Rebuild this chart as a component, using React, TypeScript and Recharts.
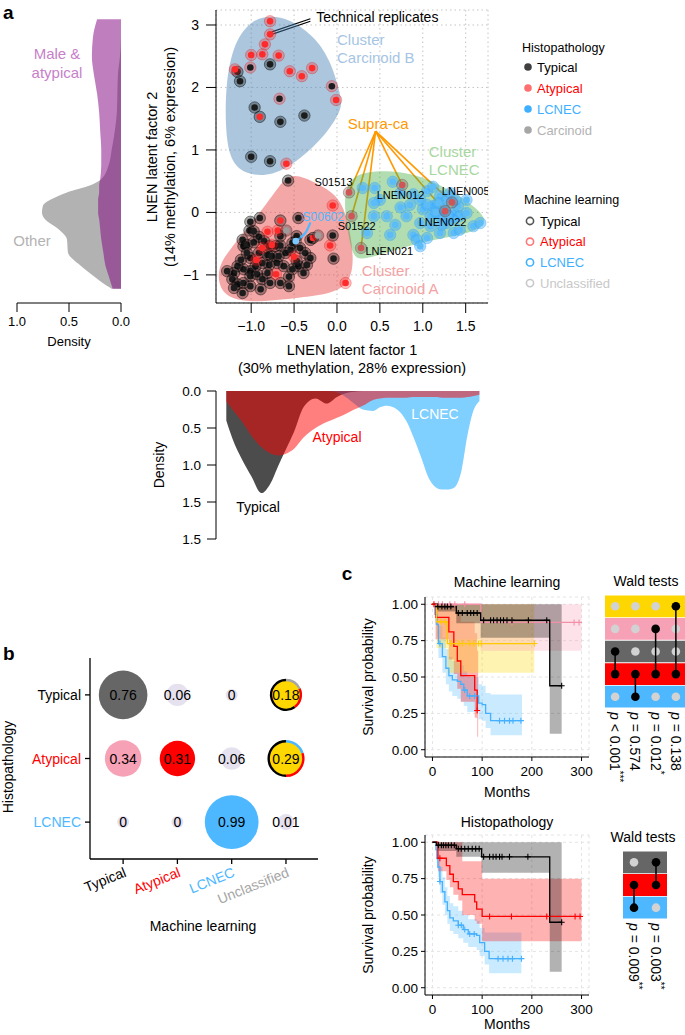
import React from 'react';
import {
  ScatterChart,
  Scatter,
  XAxis,
  YAxis,
  CartesianGrid,
  ReferenceLine,
  ReferenceArea,
  AreaChart,
  Area,
  ComposedChart,
  Line,
} from 'recharts';

const W = 685;
const H = 1035;
const FONT = '"Liberation Sans", Arial, Helvetica, sans-serif';

// ---------- panel a: latent factors ----------
const latent1Ticks = [-1, -0.5, 0, 0.5, 1, 1.5];
const latent2Ticks = [-1, 0, 1, 2, 3];

// histopathology / machine learning combinations
const typicalPts = [
  [-0.78, 2.37], [-1.16, 2.25], [-1.13, 2.1], [-0.96, 1.68], [-0.66, 1.45], [-0.38, 1.55], [-1.0, 0.89], [-0.78, 0.82],
  [-0.57, 0.51], [-0.45, -0.09], [-0.9, -0.09], [-1.01, -0.15], [-1.02, -0.29], [-0.47, -0.38], [-0.05, -0.37],
  [-0.04, -0.74], [-0.56, -1.03], [-1.09, -0.54], [-1.1, -0.44], [-1.05, -0.52], [-0.97, -0.48], [-0.91, -0.39],
  [-0.85, -0.46], [-0.79, -0.54], [-0.72, -0.54], [-0.66, -0.53], [-0.6, -0.65], [-0.54, -0.6], [-0.43, -0.57],
  [-0.37, -0.65], [-0.31, -0.73], [-0.35, -0.84], [-0.45, -0.86], [-0.52, -0.91], [-0.62, -0.86], [-0.7, -0.81],
  [-0.79, -0.84], [-0.87, -0.81], [-0.95, -0.86], [-1.01, -0.94], [-1.09, -0.91], [-1.16, -0.86], [-1.2, -0.97],
  [-1.28, -0.94], [-1.22, -1.07], [-1.16, -1.15], [-1.09, -1.13], [-1.01, -1.02], [-0.93, -0.99], [-0.87, -1.07],
  [-0.81, -0.97], [-0.78, -1.13], [-0.66, -1.13], [-0.56, -1.18], [-1.1, -1.29], [-1.2, -1.21], [-0.91, -0.65],
  [-1.01, -0.73], [-1.05, -0.65], [-1.12, -0.76], [-0.81, -0.68], [-0.76, -0.7], [-0.68, -0.7], [-0.89, -1.23],
  [-1.01, -1.18], [-0.52, -0.49], [-0.47, -0.78], [-0.31, -0.44], [-0.66, -0.38], [-0.39, -0.97], [-0.97, -0.3],
];
const atypicalPts = [
  [-0.78, 3.06], [-0.78, 2.85], [-0.84, 2.69], [-0.87, 2.53], [-1.0, 2.52], [-0.68, 2.51], [-1.19, 2.29], [-0.55, 2.26],
  [-0.41, 2.18], [-0.29, 2.31], [-0.01, 1.8], [-0.59, 0.78], [-0.05, 0.11], [-0.81, -0.31], [-0.69, -0.29],
  [-0.08, -0.53], [0.1, -1.13], [-0.5, -0.71], [-0.71, -0.99], [-0.94, -0.76], [-0.87, -0.57], [-0.76, -0.52],
];
const typAsAtyPts = [[-1.01, 2.32], [-0.06, 2.02], [-0.67, 1.82]];
const atyAsTypPts = [[-0.9, 1.53], [-0.66, -0.13], [-0.28, -0.41]];
const carcinoidPts = [[-0.59, -0.29], [-0.22, -0.37]];
const lcnecPts = [
  [0.3, 0.39], [0.44, 0.39], [0.65, 0.49], [0.5, 0.2], [0.74, 0.08], [0.89, 0.29], [0.97, 0.2], [1.05, 0.34],
  [1.12, 0.41], [1.2, 0.26], [1.12, 0.1], [1.09, -0.06], [0.97, -0.17], [1.09, -0.22], [1.2, -0.06], [1.28, 0.2],
  [1.32, 0.31], [1.36, -0.01], [1.41, 0.1], [1.43, -0.06], [1.36, -0.12], [1.28, -0.17], [1.51, -0.01], [1.59, -0.22],
  [1.67, -0.17], [0.62, -0.36], [0.89, -0.36], [0.93, -0.44], [1.05, -0.41], [0.97, -0.54], [1.36, -0.33], [0.58, -0.06],
  [0.74, 0.31], [0.43, 0.15], [0.35, -0.33], [0.81, -0.06], [0.43, -0.06], [1.2, -0.33], [1.51, 0.2], [1.43, -0.28],
  [1.0, 0.05], [1.15, 0.0], [1.25, 0.05], [1.3, -0.05], [1.18, 0.15], [1.05, 0.12], [0.85, 0.12], [0.68, -0.2],
  [1.38, 0.2], [1.22, -0.2],
];
const s00602Pt = [[-0.48, -0.46]];
const s00602Arrow = [[-0.31, -0.16], [-0.37, -0.33], [-0.47, -0.45]];
const supraPts = [[0.14, 0.32], [0.17, -0.06], [0.28, -0.57], [0.76, 0.44], [1.34, 0.16], [1.26, 0.02]];
const supraAnchor = { x: 0.45, y: 1.3 };
const replicateLines = [
  [[-0.31, 3.1], [-0.76, 2.89]],
  [[-0.31, 3.06], [-0.76, 2.85]],
];

// cluster hulls
const hullB = [
  [-0.76, 3.15], [-0.56, 3.1], [-0.28, 2.84], [-0.08, 2.46], [0.05, 1.85], [0.06, 1.65], [-0.14, 1.22], [-0.43, 0.85],
  [-0.74, 0.58], [-1.07, 0.6], [-1.24, 0.82], [-1.3, 1.27], [-1.3, 2.06], [-1.2, 2.74], [-0.98, 3.1],
];
const hullA = [
  [-0.54, 0.6], [-0.4, 0.58], [-0.05, 0.34], [0.08, 0.1], [0.18, -0.44], [0.21, -1.26], [-0.43, -1.36], [-1.05, -1.46],
  [-1.36, -1.32], [-1.4, -0.91], [-1.27, -0.62], [-0.9, -0.02], [-0.66, 0.46],
];
const hullL = [
  [0.09, 0.36], [0.21, 0.63], [0.58, 0.68], [0.98, 0.6], [1.43, 0.28], [1.8, -0.12], [1.62, -0.32], [1.12, -0.43],
  [0.58, -0.64], [0.26, -0.78], [0.17, -0.67], [0.09, -0.01],
];

const clusterBTag = [{ x: 0.0, y: 2.76, t: 'Cluster' }, { x: 0.0, y: 2.48, t: 'Carcinoid B' }];
const clusterLTag = [{ x: 1.07, y: 0.97, t: 'Cluster' }, { x: 1.07, y: 0.68, t: 'LCNEC' }];
const clusterATag = [{ x: 0.29, y: -0.93, t: 'Cluster' }, { x: 0.29, y: -1.21, t: 'Carcinoid A' }];
const replicateTag = [{ x: 0.47, y: 3.12, t: 'Technical replicates' }];
const supraTag = [{ x: 0.48, y: 1.43, t: 'Supra-ca' }];
const s00602Tag = [{ x: -0.16, y: -0.07, t: 'S00602' }];
const sampleTags = [
  { x: -0.04, y: 0.48, t: 'S01513' },
  { x: 0.23, y: -0.21, t: 'S01522' },
  { x: 0.61, y: -0.62, t: 'LNEN021' },
  { x: 0.74, y: 0.28, t: 'LNEN012' },
  { x: 1.5, y: 0.35, t: 'LNEN005' },
  { x: 1.23, y: -0.16, t: 'LNEN022' },
];

// density along factor 2 (left)
const densY = [3.09, 2.8, 2.5, 2.2, 1.9, 1.6, 1.3, 1.0, 0.75, 0.53, 0.43, 0.32, 0.21, 0.11, 0, -0.11, -0.27, -0.43, -0.64, -0.85, -1.01, -1.17, -1.22];
const maleAtypicalDens = [0.23, 0.27, 0.28, 0.26, 0.23, 0.21, 0.2, 0.19, 0.19, 0.2, 0.21, 0.21, 0.22, 0.22, 0.22, 0.21, 0.2, 0.19, 0.17, 0.15, 0.12, 0.09, 0.08];
const otherDens = [0, 0, 0.01, 0.03, 0.035, 0.04, 0.06, 0.09, 0.12, 0.19, 0.3, 0.52, 0.67, 0.75, 0.76, 0.73, 0.6, 0.52, 0.51, 0.39, 0.27, 0.14, 0.09];
const densXTicks = [0, 0.5, 1];

// density along factor 1 (bottom)
const densX = [-1.29, -1.22, -1.11, -1.0, -0.88, -0.78, -0.68, -0.6, -0.5, -0.39, -0.25, -0.12, 0.0, 0.1, 0.2, 0.3, 0.42, 0.5, 0.58, 0.7, 0.81, 0.9, 0.97, 1.08, 1.15, 1.22, 1.3, 1.36, 1.45, 1.52, 1.58, 1.66];
const typicalDens = [0.4, 0.64, 0.92, 1.15, 1.38, 1.26, 1.0, 0.8, 0.55, 0.22, 0.1, 0.17, 0.08, 0.03, 0.01, 0, 0, 0, 0, 0, 0, 0, 0, 0, 0, 0, 0, 0, 0, 0, 0, 0];
const atypicalDens = [0.14, 0.25, 0.41, 0.6, 0.76, 0.84, 0.87, 0.85, 0.78, 0.63, 0.5, 0.42, 0.36, 0.31, 0.25, 0.2, 0.12, 0.1, 0.09, 0.09, 0.09, 0.08, 0.08, 0.08, 0.08, 0.09, 0.09, 0.09, 0.09, 0.08, 0.07, 0.05];
const lcnecDens = [0, 0, 0, 0, 0, 0, 0, 0, 0, 0, 0, 0, 0.02, 0.08, 0.17, 0.25, 0.27, 0.22, 0.2, 0.25, 0.41, 0.65, 0.86, 1.2, 1.3, 1.33, 1.33, 1.31, 1.08, 0.6, 0.3, 0.14];
const bottomTicks = [0, 0.5, 1, 1.5, 2];
const bottomTickLabels = ['0.0', '0.5', '1.0', '1.5', '1.5'];

// ---------- panel b: confusion bubbles ----------
const mlClasses = ['Typical', 'Atypical', 'LCNEC', 'Unclassified'];
const histoClasses = ['Typical', 'Atypical', 'LCNEC'];
const propTypical = [0.76, 0.06, 0, 0.18];
const propAtypical = [0.34, 0.31, 0.06, 0.29];
const propLCNEC = [0, 0, 0.99, 0.01];
// composition of the unclassified samples (typical / atypical / other)
const unclassifiedMix = [[0.6, 0.22, 0.18], [0.5, 0.3, 0.2]];

// ---------- panel c: survival ----------
const monthTicks = [0, 100, 200, 300];
const survTicks = [0, 0.25, 0.5, 0.75, 1];

type KM = { t: number[]; s: number[]; lo: number[]; hi: number[]; cens: number[][] };

const mlUnclassified: KM = {
  t: [0, 8, 30, 205], s: [1, 0.88, 0.73, 0.73], lo: [1, 0.7, 0.53, 0.53], hi: [1, 1, 1, 1],
  cens: [[17, 0.88], [25, 0.88], [37, 0.73], [53, 0.73], [60, 0.73], [75, 0.73], [83, 0.73], [93, 0.73], [98, 0.73], [205, 0.73]],
};
const mlPink: KM = {
  t: [0, 5, 97, 300], s: [1, 1, 0.875, 0.875], lo: [1, 0.76, 0.68, 0.68], hi: [1, 1, 1, 1],
  cens: [[12, 1], [20, 1], [35, 1], [45, 1], [65, 1], [160, 0.875], [285, 0.875], [295, 0.875]],
};
const mlTypical: KM = {
  t: [0, 10, 48, 97, 236, 260], s: [1, 0.984, 0.94, 0.89, 0.44, 0.44], lo: [1, 0.95, 0.87, 0.77, 0.11, 0.11], hi: [1, 1, 1, 1, 1, 1],
  cens: [[11, 0.984], [19, 0.984], [25, 0.984], [30, 0.984], [37, 0.984], [52, 0.94], [60, 0.94], [70, 0.94], [77, 0.94], [83, 0.94], [90, 0.94],
    [103, 0.89], [117, 0.89], [123, 0.89], [130, 0.89], [137, 0.89], [143, 0.89], [150, 0.89], [160, 0.89], [193, 0.89], [230, 0.89], [260, 0.44]],
};
const mlAtypical: KM = {
  t: [0, 7, 33, 43, 50, 57, 85, 90, 92], s: [1, 0.91, 0.81, 0.71, 0.61, 0.51, 0.41, 0.27, 0.27],
  lo: [1, 0.76, 0.62, 0.52, 0.42, 0.33, 0.22, 0.09, 0.09], hi: [1, 1, 1, 1, 0.95, 0.88, 0.8, 0.68, 0.68],
  cens: [[3, 1], [90, 0.27]],
};
const mlLCNEC: KM = {
  t: [0, 5, 9, 12, 20, 27, 33, 40, 50, 57, 63, 70, 93, 100, 107, 117, 180],
  s: [1, 0.93, 0.86, 0.73, 0.64, 0.56, 0.51, 0.48, 0.47, 0.45, 0.41, 0.37, 0.32, 0.31, 0.25, 0.2, 0.2],
  lo: [1, 0.86, 0.78, 0.63, 0.53, 0.45, 0.4, 0.37, 0.35, 0.33, 0.3, 0.26, 0.21, 0.2, 0.15, 0.1, 0.1],
  hi: [1, 1, 0.95, 0.85, 0.77, 0.69, 0.64, 0.61, 0.6, 0.58, 0.54, 0.5, 0.45, 0.44, 0.39, 0.38, 0.38],
  cens: [[15, 0.73], [65, 0.41], [75, 0.37], [85, 0.37], [135, 0.2], [145, 0.2], [155, 0.2], [162, 0.2], [178, 0.2]],
};

const hTypical: KM = {
  t: [0, 8, 48, 99, 236, 260], s: [1, 0.98, 0.955, 0.9, 0.45, 0.45], lo: [1, 0.94, 0.9, 0.79, 0.11, 0.11], hi: [1, 1, 1, 1, 1, 1],
  cens: [[12, 0.98], [18, 0.98], [22, 0.98], [27, 0.98], [32, 0.98], [38, 0.98], [44, 0.98], [52, 0.955], [58, 0.955], [65, 0.955], [72, 0.955],
    [80, 0.955], [87, 0.955], [94, 0.955], [103, 0.9], [115, 0.9], [122, 0.9], [128, 0.9], [135, 0.9], [140, 0.9], [155, 0.9], [192, 0.9], [260, 0.45]],
};
const hAtypical: KM = {
  t: [0, 11, 28, 35, 42, 52, 60, 85, 89, 100, 300], s: [1, 0.89, 0.84, 0.78, 0.73, 0.68, 0.64, 0.59, 0.54, 0.49, 0.49],
  lo: [1, 0.8, 0.74, 0.69, 0.64, 0.6, 0.5, 0.46, 0.44, 0.32, 0.32], hi: [1, 1, 1, 1, 1, 1, 0.87, 0.87, 0.87, 0.75, 0.75],
  cens: [[15, 0.89], [115, 0.49], [159, 0.49], [230, 0.49], [287, 0.49], [297, 0.49]],
};
const hLCNEC: KM = {
  t: [0, 7, 9, 11, 15, 20, 25, 30, 35, 42, 52, 62, 72, 89, 95, 105, 114, 179],
  s: [1, 0.95, 0.89, 0.83, 0.73, 0.66, 0.59, 0.53, 0.48, 0.46, 0.43, 0.4, 0.37, 0.36, 0.31, 0.25, 0.2, 0.2],
  lo: [1, 0.88, 0.82, 0.76, 0.65, 0.57, 0.5, 0.44, 0.39, 0.37, 0.34, 0.31, 0.28, 0.26, 0.22, 0.16, 0.1, 0.1],
  hi: [1, 1, 0.97, 0.92, 0.83, 0.76, 0.69, 0.63, 0.58, 0.56, 0.53, 0.5, 0.47, 0.46, 0.41, 0.38, 0.38, 0.38],
  cens: [[15, 0.73], [52, 0.43], [58, 0.43], [65, 0.4], [75, 0.37], [84, 0.37], [132, 0.2], [142, 0.2], [152, 0.2], [161, 0.2], [179, 0.2]],
};

// Wald tests: which two groups each column compares
const mlPairs = [[3, 4], [4, 5], [2, 4], [1, 4]];
const mlPLabels = ['p < 0.001***', 'p = 0.574', 'p = 0.012*', 'p = 0.138'];
const hPairs = [[2, 3], [1, 2]];
const hPLabels = ['p = 0.009**', 'p = 0.003**'];

// ---------- colours ----------
const C_TYP = '#000000';
const C_ATY = '#ff0000';
const C_LCN = '#4db8ff';
const C_UNC = '#ffd700';
const C_PINK = '#f7a1b6';
const C_GREY = '#666666';
const mlColors = ['#000000', '#ff0000', '#4db8ff', '#a6a6a6'];
const histoColors = ['#000000', '#ff0000', '#4db8ff'];
const cellFill = [
  ['#666666', '#e6e1ef', '#e6e1ef', '#ffd700'],
  ['#f7a1b6', '#ff0000', '#e6e1ef', '#ffd700'],
  ['#e6e1ef', '#e6e1ef', '#4db8ff', '#e6e1ef'],
];
const mixColors = [['#000000', '#ff0000', '#a6a6a6'], ['#000000', '#ff0000', '#4db8ff']];

// plot box in page pixels -> chart margin (axis sizes included)
const box = (l: number, t: number, r: number, b: number, yw = 0, xh = 0) => ({
  top: t, left: l - yw, right: W - r, bottom: H - b - xh,
});
const xy = (a: number[][]) => a.map(([x, y]) => ({ x, y }));
const minus = (s: string) => s.replace('-', '\u2212');
const hidden = () => <g />;

const Layer = ({ children }: { children: React.ReactNode }) => (
  <div style={{ position: 'absolute', left: 0, top: 0 }}>{children}</div>
);

const ringDot = (core: string, ring: string, edge: string) => (p: any) => (
  <g>
    <circle cx={p.cx} cy={p.cy} r={5.7} fill={ring} stroke={edge} strokeWidth={0.8} />
    <circle cx={p.cx} cy={p.cy} r={3.3} fill={core} />
  </g>
);

const textMark = (color: string, size: number, anchor: 'start' | 'middle' | 'end' = 'middle') => (p: any) => (
  <text x={p.cx} y={p.cy} textAnchor={anchor} dominantBaseline="central" fill={color} fontSize={size}>
    {p.payload.t}
  </text>
);

const hull = (data: number[][], fill: string) => (
  <Scatter
    data={xy(data)}
    shape={hidden}
    line={{ fill, stroke: 'none' }}
    lineType="joint"
    lineJointType="basisClosed"
    isAnimationActive={false}
  />
);

function LatentScatter() {
  return (
    <ScatterChart width={W} height={H} margin={box(216, 10, 488, 303, 45, 45)}>
      <CartesianGrid stroke="#c4c4c4" strokeDasharray="1.5 3" />
      <XAxis
        type="number" dataKey="x" domain={[-1.41, 1.76]} allowDataOverflow ticks={latent1Ticks} interval={0}
        tickFormatter={(v: number) => minus(v.toFixed(1))} height={45} stroke="#000" tickSize={10} tickMargin={8}
        tick={{ fill: '#000', fontSize: 14 }}
      />
      <YAxis
        type="number" dataKey="y" domain={[-1.45, 3.24]} allowDataOverflow ticks={latent2Ticks} interval={0}
        tickFormatter={(v: number) => minus(String(v))} width={45} stroke="#000" tickSize={10} tickMargin={7}
        tick={{ fill: '#000', fontSize: 14 }}
      />
      {hull(hullB, 'rgba(70,130,180,0.45)')}
      {hull(hullA, 'rgba(230,60,60,0.45)')}
      {hull(hullL, 'rgba(60,170,60,0.4)')}

      {replicateLines.map((seg, k) => (
        <ReferenceLine key={'rep' + k} segment={xy(seg)} stroke="#000" strokeWidth={1.2} ifOverflow="visible" />
      ))}
      {supraPts.map((p, k) => (
        <ReferenceLine key={'sup' + k} segment={[supraAnchor, { x: p[0], y: p[1] }]} stroke="#ff9900" strokeWidth={1.6} ifOverflow="visible" />
      ))}

      <Scatter data={xy(typicalPts)} shape={ringDot('#1c1c1c', 'rgba(0,0,0,0.32)', 'rgba(0,0,0,0.55)')} isAnimationActive={false} />
      <Scatter data={xy(typAsAtyPts)} shape={ringDot('#1c1c1c', 'rgba(255,40,40,0.3)', 'rgba(220,0,0,0.35)')} isAnimationActive={false} />
      <Scatter data={xy(atypicalPts)} shape={ringDot('#ff2a2a', 'rgba(255,40,40,0.3)', 'rgba(220,0,0,0.35)')} isAnimationActive={false} />
      <Scatter data={xy(atyAsTypPts)} shape={ringDot('#ff2a2a', 'rgba(0,0,0,0.32)', 'rgba(0,0,0,0.6)')} isAnimationActive={false} />
      <Scatter data={xy(carcinoidPts)} shape={ringDot('#9c9c9c', 'rgba(0,0,0,0.25)', 'rgba(0,0,0,0.35)')} isAnimationActive={false} />
      <Scatter data={xy(lcnecPts)} shape={ringDot('#5cbcf7', 'rgba(60,170,255,0.45)', 'rgba(60,170,255,0.5)')} isAnimationActive={false} />
      <Scatter data={xy(supraPts)} shape={ringDot('#cf5656', 'rgba(120,90,90,0.35)', 'rgba(120,60,60,0.45)')} isAnimationActive={false} />
      <Scatter
        data={xy(s00602Arrow)} shape={hidden} line={{ stroke: '#4db8ff', strokeWidth: 2.2, fill: 'none' }}
        lineType="joint" lineJointType="natural" isAnimationActive={false}
      />
      <Scatter data={xy(s00602Pt)} shape={ringDot('#7ac8ff', 'rgba(0,0,0,0.25)', 'rgba(0,0,0,0.35)')} isAnimationActive={false} />

      <Scatter data={clusterBTag} shape={textMark('#a6c5e4', 15, 'start')} isAnimationActive={false} />
      <Scatter data={clusterLTag} shape={textMark('#a8d7a0', 15, 'start')} isAnimationActive={false} />
      <Scatter data={clusterATag} shape={textMark('#f3a3a3', 15, 'start')} isAnimationActive={false} />
      <Scatter data={replicateTag} shape={textMark('#000', 14)} isAnimationActive={false} />
      <Scatter data={supraTag} shape={textMark('#ff9900', 15)} isAnimationActive={false} />
      <Scatter data={s00602Tag} shape={textMark('#4db8ff', 12)} isAnimationActive={false} />
      <Scatter data={sampleTags} shape={textMark('#000', 11)} isAnimationActive={false} />
    </ScatterChart>
  );
}

function LeftDensity() {
  const data = densY.map((y, i) => ({ y, g: otherDens[i], p: maleAtypicalDens[i] }));
  return (
    <AreaChart layout="vertical" width={W} height={H} data={data} margin={box(17, 10, 121, 303, 0, 40)}>
      <XAxis
        type="number" domain={[0, 1]} reversed ticks={densXTicks} interval={0} tickFormatter={(v: number) => v.toFixed(1)}
        height={40} stroke="#000" tickSize={9} tickMargin={5} tick={{ fill: '#000', fontSize: 13 }} allowDataOverflow
      />
      <YAxis type="number" dataKey="y" domain={[-1.45, 3.24]} reversed hide allowDataOverflow />
      <Area dataKey="g" type="monotone" baseValue={0} stroke="none" fill="rgba(102,102,102,0.5)" fillOpacity={1} isAnimationActive={false} />
      <Area dataKey="p" type="monotone" baseValue={0} stroke="none" fill="rgba(128,0,128,0.5)" fillOpacity={1} isAnimationActive={false} />
    </AreaChart>
  );
}

function BottomDensity() {
  const data = densX.map((x, i) => ({ x, t: typicalDens[i], l: lcnecDens[i], a: atypicalDens[i] }));
  return (
    <AreaChart width={W} height={H} data={data} margin={box(216, 391, 488, 539, 50, 0)}>
      <XAxis type="number" dataKey="x" domain={[-1.41, 1.76]} hide allowDataOverflow />
      <YAxis
        type="number" domain={[0, 2]} reversed ticks={bottomTicks} interval={0}
        tickFormatter={(v: number, i: number) => bottomTickLabels[i]} width={50} stroke="#000" tickSize={9} tickMargin={6}
        tick={{ fill: '#000', fontSize: 13.5 }} allowDataOverflow
      />
      <Area dataKey="t" type="monotone" baseValue={0} stroke="none" fill="rgba(0,0,0,0.7)" fillOpacity={1} isAnimationActive={false} />
      <Area dataKey="l" type="monotone" baseValue={0} stroke="none" fill="rgba(0,160,255,0.5)" fillOpacity={1} isAnimationActive={false} />
      <Area dataKey="a" type="monotone" baseValue={0} stroke="none" fill="rgba(255,0,0,0.5)" fillOpacity={1} isAnimationActive={false} />
    </AreaChart>
  );
}

// ---------- panel b ----------
const arcPath = (cx: number, cy: number, r: number, a0: number, a1: number) => {
  const rad = Math.PI / 180;
  const x0 = cx + r * Math.cos(a0 * rad);
  const y0 = cy - r * Math.sin(a0 * rad);
  const x1 = cx + r * Math.cos(a1 * rad);
  const y1 = cy - r * Math.sin(a1 * rad);
  return `M${x0},${y0} A${r},${r} 0 ${a1 - a0 > 180 ? 1 : 0} 0 ${x1},${y1}`;
};

const bubble = (p: any) => {
  const { cx, cy, payload } = p;
  const { v, i, j } = payload;
  const r = 6 + 21 * Math.sqrt(v);
  const mix = j === 3 && v > 0.1 ? unclassifiedMix[i] : null;
  let a = 90;
  return (
    <g>
      <circle cx={cx} cy={cy} r={r} fill={cellFill[i][j]} />
      {mix &&
        mix.map((f, k) => {
          const a0 = a;
          a += f * 360;
          return <path key={k} d={arcPath(cx, cy, r, a0, a)} fill="none" stroke={mixColors[i][k]} strokeWidth={2.4} />;
        })}
      <text x={cx} y={cy} textAnchor="middle" dominantBaseline="central" fontSize={14} fill="#000">
        {v === 0 ? '0' : String(v)}
      </text>
    </g>
  );
};

const MlTick = (p: any) => {
  const k = p.payload.value - 1;
  const x = p.x + 4;
  const y = p.y + 12;
  return (
    <text x={x} y={y} textAnchor="end" transform={`rotate(-22 ${x} ${y})`} fontSize={14} fill={mlColors[k]}>
      {mlClasses[k]}
    </text>
  );
};

const HistoTick = (p: any) => {
  const k = 3 - p.payload.value;
  return (
    <text x={p.x} y={p.y} textAnchor="end" dominantBaseline="central" fontSize={14} fill={histoColors[k]}>
      {histoClasses[k]}
    </text>
  );
};

function Confusion() {
  const cells = [propTypical, propAtypical, propLCNEC].flatMap((row, i) =>
    row.map((v, j) => ({ x: j + 1, y: 3 - i, v, i, j })),
  );
  return (
    <ScatterChart width={W} height={H} margin={box(90, 658, 318, 859, 90, 60)}>
      <XAxis
        type="number" dataKey="x" domain={[0.39, 4.59]} ticks={[1, 2, 3, 4]} interval={0} height={60} stroke="#000"
        strokeWidth={1.3} tickSize={5} tickMargin={0} tick={<MlTick />} allowDataOverflow
      />
      <YAxis
        type="number" dataKey="y" domain={[0.42, 3.58]} ticks={[1, 2, 3]} interval={0} width={90} stroke="#000"
        strokeWidth={1.3} tickSize={5} tickMargin={4} tick={<HistoTick />} allowDataOverflow
      />
      <Scatter data={cells} shape={bubble} isAnimationActive={false} />
    </ScatterChart>
  );
}

// ---------- panel c ----------
const kmRows = (c: KM) => c.t.map((x, i) => ({ x, y: c.s[i], ci: [c.lo[i], c.hi[i]] }));

const censorMark = (color: string) => (p: any) => (
  <path d={`M${p.cx - 3},${p.cy}h6M${p.cx},${p.cy - 3}v6`} stroke={color} strokeWidth={1.1} />
);

type Series = { km: KM; color: string; band: string };

function Survival({ top, curves }: { top: number; curves: Series[] }) {
  return (
    <ComposedChart width={W} height={H} margin={box(425, top, 589, top + 160, 45, 30)}>
      <CartesianGrid stroke="#e4e4e4" strokeDasharray="3 3" />
      <XAxis
        type="number" dataKey="x" domain={[-15, 315]} allowDataOverflow ticks={monthTicks} interval={0} height={30}
        stroke="#000" tickSize={4} tickMargin={5} tick={{ fill: '#000', fontSize: 13.5 }}
      />
      <YAxis
        type="number" dataKey="y" domain={[-0.05, 1.05]} allowDataOverflow ticks={survTicks} interval={0}
        tickFormatter={(v: number) => v.toFixed(2)} width={45} stroke="#000" tickSize={4} tickMargin={3}
        tick={{ fill: '#000', fontSize: 13.5 }}
      />
      {curves.map((c, k) => (
        <Area key={'a' + k} data={kmRows(c.km)} dataKey="ci" type="stepAfter" stroke="none" fill={c.band}
          fillOpacity={0.3} isAnimationActive={false} />
      ))}
      {curves.map((c, k) => (
        <Line key={'l' + k} data={kmRows(c.km)} dataKey="y" type="stepAfter" stroke={c.color} strokeWidth={1.3}
          dot={false} isAnimationActive={false} />
      ))}
      {curves.map((c, k) => (
        <Scatter key={'c' + k} data={xy(c.km.cens)} shape={censorMark(c.color)} isAnimationActive={false} />
      ))}
    </ComposedChart>
  );
}

const PTick = (p: any) => {
  const s: string = p.labels[p.payload.value - 1];
  const m = s.match(/^p (.*?)(\**)$/) || ['', s, ''];
  return (
    <text x={p.x} y={p.y} transform={`rotate(90 ${p.x} ${p.y})`} textAnchor="start" dominantBaseline="central"
      fontSize={14} fill="#000">
      <tspan fontStyle="italic">p</tspan>
      {' ' + m[1]}
      <tspan fontSize={10} dy={-5}>{m[2]}</tspan>
    </text>
  );
};

const disc = (color: string) => (p: any) => <circle cx={p.cx} cy={p.cy} r={4.3} fill={color} />;

function Wald({ rows, pairs, labels, l, t, r, b }: {
  rows: string[]; pairs: number[][]; labels: string[]; l: number; t: number; r: number; b: number;
}) {
  const n = rows.length;
  const m = pairs.length;
  const grey = pairs.flatMap((pr, j) =>
    rows.map((_, i) => i + 1).filter((i) => !pr.includes(i)).map((i) => ({ x: j + 1, y: i })),
  );
  return (
    <ScatterChart width={W} height={H} margin={box(l, t, r, b, 0, 100)}>
      <XAxis
        type="number" dataKey="x" domain={[0.5, m + 0.5]} ticks={pairs.map((_, j) => j + 1)} interval={0}
        axisLine={false} tickLine={false} tickSize={0} tickMargin={4} height={100} tick={<PTick labels={labels} />}
        allowDataOverflow
      />
      <YAxis type="number" dataKey="y" domain={[0.5, n + 0.5]} reversed hide allowDataOverflow />
      {rows.map((c, i) => (
        <ReferenceArea key={'row' + i} x1={0.5} x2={m + 0.5} y1={i + 1 - 0.48} y2={i + 1 + 0.48} fill={c}
          fillOpacity={1} stroke="none" ifOverflow="visible" />
      ))}
      <Scatter data={grey} shape={disc('#d2d2d2')} isAnimationActive={false} />
      {pairs.map((pr, j) => (
        <Scatter key={'pair' + j} data={pr.map((y) => ({ x: j + 1, y }))} shape={disc('#000')}
          line={{ stroke: '#000', strokeWidth: 1.5 }} lineType="joint" isAnimationActive={false} />
      ))}
    </ScatterChart>
  );
}

// ---------- text that is not tied to a data scale ----------
function Overlay() {
  const rot = (x: number, y: number, a = -90) => `rotate(${a} ${x} ${y})`;
  const c = { textAnchor: 'middle' as const, dominantBaseline: 'central' as const };
  return (
    <svg width={W} height={H} style={{ position: 'absolute', left: 0, top: 0, fontFamily: FONT }}>
      <text x={3} y={12} fontSize={19} fontWeight="bold" dominantBaseline="central">a</text>
      <text x={3} y={653} fontSize={19} fontWeight="bold" dominantBaseline="central">b</text>
      <text x={347} y={573} fontSize={19} fontWeight="bold" {...c}>c</text>

      <text x={352} y={350} fontSize={14.5} {...c}>LNEN latent factor 1</text>
      <text x={352} y={368} fontSize={14.5} {...c}>(30% methylation, 28% expression)</text>
      <text x={152} y={157} fontSize={14.5} {...c} transform={rot(152, 157)}>LNEN latent factor 2</text>
      <text x={170} y={157} fontSize={14.5} {...c} transform={rot(170, 157)}>(14% methylation, 6% expression)</text>

      <text x={57} y={53} fontSize={15} fill="#c77fc9" {...c}>Male &amp;</text>
      <text x={57} y={72} fontSize={15} fill="#c77fc9" {...c}>atypical</text>
      <text x={32} y={240} fontSize={15} fill="#b3b3b3" {...c}>Other</text>
      <text x={69} y={341} fontSize={13} {...c}>Density</text>

      <text x={159} y={465} fontSize={14} {...c} transform={rot(159, 465)}>Density</text>
      <text x={258} y={507} fontSize={14} {...c}>Typical</text>
      <text x={337} y={437} fontSize={14} fill="#ff0000" {...c}>Atypical</text>
      <text x={435} y={414} fontSize={14} fill="#ffffff" {...c}>LCNEC</text>

      <text x={522} y={48} fontSize={12.5} dominantBaseline="central">Histopathology</text>
      {['Typical', 'Atypical', 'LCNEC', 'Carcinoid'].map((s, k) => (
        <g key={'h' + s}>
          <circle cx={528} cy={67 + k * 21} r={3.8} fill={['#404040', '#ff6f6f', '#3fb0ff', '#a6a6a6'][k]} />
          <text x={537} y={67 + k * 21} fontSize={13} dominantBaseline="central"
            fill={['#000', '#ff0000', '#3fb0ff', '#b3b3b3'][k]}>{s}</text>
        </g>
      ))}
      <text x={524} y={200} fontSize={12.5} dominantBaseline="central">Machine learning</text>
      {['Typical', 'Atypical', 'LCNEC', 'Unclassified'].map((s, k) => (
        <g key={'m' + s}>
          <circle cx={530} cy={221 + k * 20.7} r={3.6} fill="none" strokeWidth={1.6}
            stroke={['#555', '#ff7777', '#3fb0ff', '#c8c8c8'][k]} />
          <text x={540} y={221 + k * 20.7} fontSize={13} dominantBaseline="central"
            fill={['#000', '#ff0000', '#3fb0ff', '#c8c8c8'][k]}>{s}</text>
        </g>
      ))}

      <text x={8} y={767} fontSize={14} {...c} transform={rot(8, 767)}>Histopathology</text>
      <text x={203} y={926} fontSize={14} {...c}>Machine learning</text>

      <text x={507} y={582} fontSize={14} {...c}>Machine learning</text>
      <text x={646} y={581} fontSize={14} {...c}>Wald tests</text>
      <text x={368} y={677} fontSize={14} {...c} transform={rot(368, 677)}>Survival probability</text>
      <text x={507} y={792} fontSize={14} {...c}>Months</text>

      <text x={507} y={822} fontSize={14} {...c}>Histopathology</text>
      <text x={643} y={837} fontSize={14} {...c}>Wald tests</text>
      <text x={368} y={915} fontSize={14} {...c} transform={rot(368, 915)}>Survival probability</text>
      <text x={507} y={1024} fontSize={14} {...c}>Months</text>
    </svg>
  );
}

export default function App() {
  const mlCurves: Series[] = [
    { km: mlLCNEC, color: '#45b0ff', band: C_LCN },
    { km: mlAtypical, color: C_ATY, band: C_ATY },
    { km: mlUnclassified, color: '#ffc800', band: C_UNC },
    { km: mlPink, color: '#f48fa8', band: C_PINK },
    { km: mlTypical, color: C_TYP, band: C_TYP },
  ];
  const hCurves: Series[] = [
    { km: hLCNEC, color: '#45b0ff', band: C_LCN },
    { km: hAtypical, color: C_ATY, band: C_ATY },
    { km: hTypical, color: C_TYP, band: C_TYP },
  ];
  return (
    <div style={{ position: 'absolute', left: 0, top: 0, width: W, height: H, background: '#fff', fontFamily: FONT, overflow: 'hidden' }}>
      <Layer><LeftDensity /></Layer>
      <Layer><BottomDensity /></Layer>
      <Layer><LatentScatter /></Layer>
      <Layer><Confusion /></Layer>
      <Layer><Survival top={597} curves={mlCurves} /></Layer>
      <Layer><Survival top={835} curves={hCurves} /></Layer>
      <Layer>
        <Wald rows={[C_UNC, C_PINK, C_GREY, C_ATY, C_LCN]} pairs={mlPairs} labels={mlPLabels} l={605} t={595} r={686} b={708} />
      </Layer>
      <Layer>
        <Wald rows={[C_GREY, C_ATY, C_LCN]} pairs={hPairs} labels={hPLabels} l={623} t={851} r={667} b={919} />
      </Layer>
      <Overlay />
    </div>
  );
}
